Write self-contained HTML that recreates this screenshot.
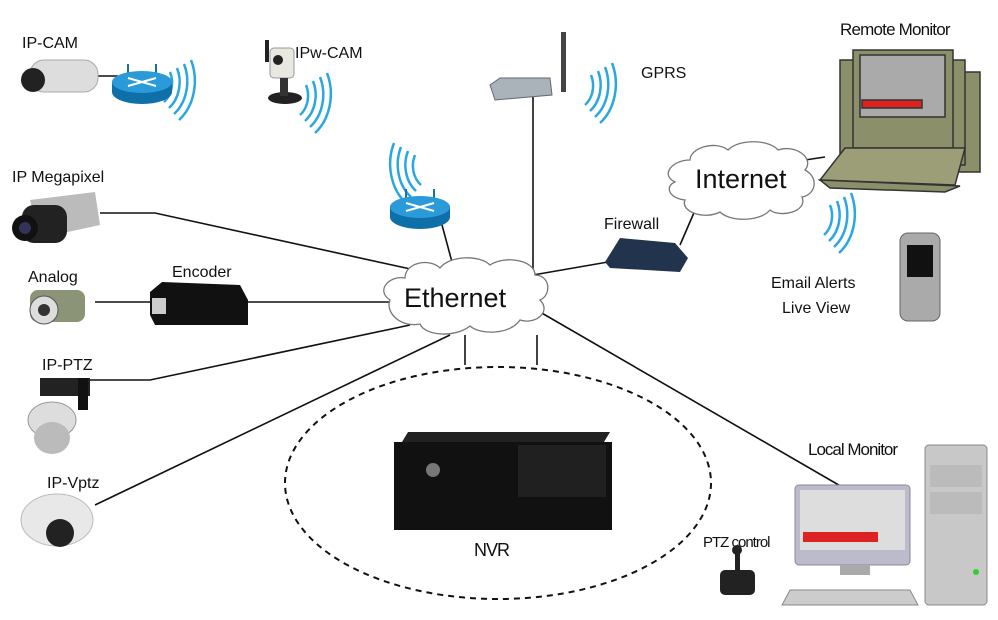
<!DOCTYPE html>
<html><head><meta charset="utf-8"><style>
body{margin:0;background:#fff}
svg{display:block}
text{font-family:"Liberation Sans",sans-serif;fill:#111}
</style></head><body>
<svg width="998" height="620" viewBox="0 0 998 620" xmlns="http://www.w3.org/2000/svg">
<defs>
<g id="wifi" fill="none" stroke="#2aa7e0" stroke-width="2.5">
<path d="M0,0 a20,24 0 0 1 -6,30"/><path d="M7,-4 a26,32 0 0 1 -8,40"/><path d="M14,-8 a32,40 0 0 1 -10,50"/><path d="M21,-12 a38,48 0 0 1 -12,60"/>
</g>
<g id="router">
<line x1="-14" y1="-18" x2="-14" y2="-2" stroke="#1a6fa8" stroke-width="2"/><line x1="14" y1="-18" x2="14" y2="-2" stroke="#1a6fa8" stroke-width="2"/>
<ellipse cx="0" cy="10" rx="30" ry="12" fill="#0f6fa8"/><rect x="-30" y="0" width="60" height="10" fill="#0f6fa8"/>
<ellipse cx="0" cy="0" rx="30" ry="11" fill="#2a9ad8"/>
<path d="M-14,-4 L14,4 M-14,4 L14,-4" stroke="#fff" stroke-width="2"/>
</g>
</defs>
<g stroke="#111" stroke-width="1.6" fill="none">
<polyline points="100,213 155,213 415,270"/>
<line x1="95" y1="302" x2="150" y2="302"/><line x1="245" y1="302" x2="395" y2="302"/>
<polyline points="90,380 150,380 410,325"/>
<line x1="95" y1="505" x2="450" y2="335"/>
<line x1="442" y1="225" x2="452" y2="262"/>
<line x1="533" y1="95" x2="533" y2="275"/>
<line x1="533" y1="275" x2="608" y2="262"/>
<line x1="680" y1="245" x2="696" y2="208"/>
<line x1="465" y1="335" x2="465" y2="365"/><line x1="537" y1="335" x2="537" y2="365"/>
<line x1="540" y1="312" x2="856" y2="495"/>
<line x1="75" y1="76" x2="118" y2="76"/>
<line x1="805" y1="160" x2="825" y2="157"/>
</g>
<ellipse cx="498" cy="483" rx="213" ry="116" fill="none" stroke="#111" stroke-width="2" stroke-dasharray="6,5"/>
<g fill="#fff" stroke="#777" stroke-width="1.3">
<path d="M390,300 C375,290 390,275 405,278 C405,262 430,258 440,268 C450,255 480,255 490,265 C505,255 535,260 535,275 C550,275 552,295 540,300 C552,312 535,325 520,320 C510,335 480,335 470,326 C455,338 425,336 420,324 C400,328 385,312 390,300Z"/>
<path d="M675,182 C660,175 672,160 690,160 C690,148 715,140 728,150 C740,138 770,140 778,150 C795,144 815,158 805,170 C820,178 815,195 802,197 C808,212 780,218 770,210 C760,222 730,222 720,212 C705,220 680,212 685,200 C668,198 665,186 675,182Z"/>
</g>
<text x="404" y="307" font-size="27">Ethernet</text>
<text x="695" y="188" font-size="27">Internet</text>
<text x="22" y="48" font-size="16">IP-CAM</text>
<text x="295" y="58" font-size="16">IPw-CAM</text>
<text x="641" y="78" font-size="16">GPRS</text>
<text x="840" y="35" font-size="17" letter-spacing="-0.8">Remote Monitor</text>
<text x="12" y="182" font-size="16">IP Megapixel</text>
<text x="28" y="282" font-size="16">Analog</text>
<text x="172" y="277" font-size="16">Encoder</text>
<text x="604" y="229" font-size="16">Firewall</text>
<text x="771" y="288" font-size="16">Email Alerts</text>
<text x="782" y="313" font-size="16">Live View</text>
<text x="42" y="370" font-size="16">IP-PTZ</text>
<text x="47" y="488" font-size="16">IP-Vptz</text>
<text x="808" y="455" font-size="17" letter-spacing="-1">Local Monitor</text>
<text x="703" y="547" font-size="15" letter-spacing="-1">PTZ control</text>
<text x="474" y="556" font-size="18" letter-spacing="-1">NVR</text>
<use href="#wifi" x="170" y="72"/>
<use href="#wifi" x="306" y="85"/>
<use href="#wifi" x="591" y="75"/>
<use href="#wifi" x="830" y="205"/>
<g transform="translate(395,185) scale(-1,1)"><use href="#wifi" x="-20" y="-30"/></g>
<use href="#router" x="142" y="82"/>
<use href="#router" x="420" y="207"/>
<rect x="30" y="60" width="68" height="32" rx="14" fill="#ddd" stroke="#aaa"/>
<circle cx="33" cy="80" r="12" fill="#222"/>
<rect x="265" y="40" width="4" height="22" fill="#222"/>
<rect x="270" y="48" width="24" height="30" rx="4" fill="#e8e8e0" stroke="#999"/>
<circle cx="278" cy="60" r="5" fill="#222"/>
<ellipse cx="285" cy="98" rx="17" ry="6" fill="#222"/><rect x="280" y="78" width="8" height="18" fill="#333"/>
<rect x="561" y="32" width="5" height="60" fill="#444"/>
<path d="M490,85 L500,78 L550,78 L552,95 L495,100Z" fill="#a9b3b9" stroke="#667"/>
<path d="M30,200 L95,192 L100,225 L40,238Z" fill="#bbb"/>
<rect x="22" y="205" width="45" height="38" rx="12" fill="#222"/>
<circle cx="25" cy="228" r="13" fill="#111"/><circle cx="25" cy="228" r="6" fill="#335"/>
<rect x="30" y="290" width="55" height="32" rx="8" fill="#8c9478"/>
<circle cx="44" cy="310" r="14" fill="#ddd" stroke="#555"/><circle cx="44" cy="310" r="6" fill="#333"/>
<path d="M150,292 L162,282 L240,285 L248,300 L248,325 L155,325 L150,315Z" fill="#111"/>
<rect x="152" y="298" width="14" height="16" fill="#ccc"/>
<path d="M605,262 L620,238 L675,243 L688,258 L680,272 L610,268Z" fill="#22334e"/>
<rect x="40" y="378" width="50" height="18" fill="#222"/>
<rect x="78" y="378" width="10" height="32" fill="#111"/>
<ellipse cx="52" cy="420" rx="24" ry="18" fill="#ddd" stroke="#999"/>
<ellipse cx="52" cy="438" rx="18" ry="16" fill="#bbb"/>
<ellipse cx="57" cy="520" rx="36" ry="26" fill="#e8e8e8" stroke="#bbb"/>
<circle cx="60" cy="533" r="14" fill="#222"/>
<path d="M408,432 L610,432 L604,442 L402,442Z" fill="#222"/>
<rect x="394" y="442" width="218" height="88" fill="#111"/>
<rect x="518" y="445" width="88" height="52" fill="#202020"/>
<circle cx="433" cy="470" r="7" fill="#777"/>
<rect x="900" y="233" width="40" height="88" rx="8" fill="#aaa" stroke="#666"/>
<rect x="907" y="245" width="26" height="32" fill="#111"/>
<g stroke="#333" stroke-width="1.5">
<rect x="850" y="72" width="130" height="100" fill="#8b8f6a"/>
<rect x="840" y="60" width="125" height="105" fill="#8b8f6a"/>
<rect x="853" y="50" width="100" height="98" fill="#8b8f6a"/>
<rect x="860" y="55" width="85" height="62" fill="#aaa"/>
<rect x="862" y="100" width="60" height="8" fill="#d22"/>
<path d="M845,148 L965,148 L955,185 L820,180Z" fill="#9c9e78"/>
<path d="M820,180 L960,186 L945,192 L830,188Z" fill="#8b8f6a"/>
</g>
<rect x="795" y="485" width="115" height="80" rx="4" fill="#bbc" stroke="#889"/>
<rect x="800" y="490" width="105" height="60" fill="#ddd"/>
<rect x="803" y="532" width="75" height="10" fill="#d22"/>
<rect x="840" y="565" width="30" height="10" fill="#aaa"/>
<path d="M790,590 L910,590 L918,605 L782,605Z" fill="#ccc" stroke="#888"/>
<rect x="925" y="445" width="62" height="160" rx="4" fill="#c8c8c8" stroke="#888"/>
<rect x="930" y="465" width="52" height="22" fill="#bbb"/>
<rect x="930" y="492" width="52" height="22" fill="#bbb"/>
<circle cx="976" cy="572" r="3" fill="#3c3"/>
<rect x="720" y="570" width="35" height="25" rx="5" fill="#222"/>
<rect x="735" y="550" width="5" height="22" fill="#222"/><circle cx="737" cy="550" r="5" fill="#222"/>
</svg>
</body></html>
